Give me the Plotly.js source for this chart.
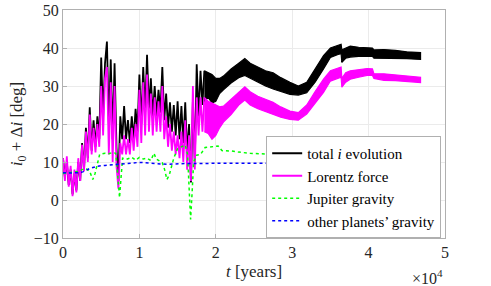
<!DOCTYPE html>
<html>
<head>
<meta charset="utf-8">
<script src="https://cdn.plot.ly/plotly-3.0.1.min.js"></script>
<style>
html,body{margin:0;padding:0;background:#fff;}
#chart{width:491px;height:286px;}
</style>
</head>
<body>
<div id="chart"></div>
<script>
// time in units of 10^4 years
const tEarly = [0.000,0.025,0.050,0.075,0.100,0.125,0.150,0.175,0.200,0.225,0.250,0.275,0.300,0.325,0.350,0.375,0.400,0.425,0.450,0.475,0.500,0.525,0.550,0.575,0.600,0.625,0.650,0.675,0.700,0.725,0.750,0.775,0.800,0.825,0.850,0.875,0.900,0.925,0.950,0.975,1.000,1.025,1.050,1.075,1.100,1.125,1.150,1.175,1.200,1.225,1.250,1.275,1.300,1.325,1.350,1.375,1.400,1.425,1.450,1.475,1.500,1.525,1.550,1.575,1.600,1.625,1.650,1.675,1.700,1.725,1.750,1.775,1.800,1.825,1.850];
const totalEarly = [11,6,10,4,8,1.5,7,2.5,10,5,15,8,19,11,24.4,13,21,14,22,16,37.5,22,36,41.7,20,37,16,36,14,5,22,16,24.7,16,21,15,22,16,24,18,33,20,35,23,38.2,24,32,22,30,22,29,23,35,21,28,19,25.7,18,25,17,26,16,24.7,15,25.7,12,20,4.6,26,10,35.7,22,34,25,34];
const lorentzEarly = [11,5,11.5,3.5,9,1,8,2,11,5,14.5,7.5,18,10,22.5,12,19,12.5,20,14,30,17,32,35,12,31,10,30,9,3,15,12,17,12,16,12,19,13,20,14,29,15,31,17,33,18,28,17,27,18,26,18,30,16,22,14,20,13,18,12,17,11,18,10,21,8,17,5,30,8,27,17,27,18,27];

const tLate = [1.85,1.90,1.95,2.00,2.05,2.10,2.20,2.30,2.38,2.45,2.55,2.65,2.75,2.85,2.97,3.08,3.19,3.30,3.41,3.50,3.60,3.64,3.65,3.70,3.76,3.87,3.98,4.05,4.07,4.20,4.35,4.50,4.68];
const totalHi = [34,33.5,33,32,32,32.6,34.5,36,37.2,36,35,34,33.5,32.2,31,30,31,34.5,38,40,40.8,41,39.5,40,40.5,40.2,40,40,39.5,39.6,39.4,39,38.8];
const totalLo = [26,27,25.5,26,28,29,30.8,32.2,32.8,32,31,30,29.2,28.5,27.8,27.6,28.2,31,34.5,37.5,38.3,38.5,36.2,37.3,37.6,37.8,37.8,37.8,37.3,37.4,37.3,37.2,37];
const lorentzHi = [27,26,25.5,25,24.5,24.7,26.5,28.5,29.8,28.5,27.3,26.5,25.7,24.5,23.4,23,25,28.5,31.8,34,34.6,35,32,33.5,34,34.3,34.6,34.5,33.2,33.2,32.9,32.6,32.3];
const lorentzLo = [18,17.5,16,17,19,20.5,22.5,25,26.3,25,24,23.2,22.5,21.8,21.2,21,22.6,25.5,28.3,31.3,32,32.3,29.7,31,31.8,32.3,32.8,32.8,32,31.5,31.4,31.2,30.9];

const tJupiter = [0,0.1,0.2,0.25,0.3,0.35,0.39,0.42,0.45,0.48,0.55,0.6,0.65,0.69,0.71,0.74,0.76,0.78,0.83,0.9,0.95,1.0,1.05,1.1,1.15,1.19,1.22,1.27,1.3,1.33,1.36,1.39,1.42,1.45,1.5,1.55,1.6,1.63,1.65,1.67,1.69,1.71,1.75,1.8,1.86,1.95,2.03,2.08,2.2,2.3,2.45,2.65,2.9,3.08,3.3,3.5,3.84,4.1,4.4,4.68];
const jupiter = [7.0,7.2,7.5,8,8.3,7.5,5.4,7,10,12,12.3,12.2,12.5,12.3,8,0.6,6,11,10.7,11.2,10.5,11.2,10.8,11,10.4,12.3,10.8,10.2,9.8,8,5.4,6.5,9,11,13.5,14,14.5,12,2,-5.1,2,10,11.8,12,13.8,14,14.2,13,12.9,12.6,12.3,12.1,11.9,11.5,10.8,10.6,10.5,10.7,10.8,10.9];

const tOther = [0,0.1,0.2,0.26,0.35,0.45,0.55,0.66,0.8,1.0,1.2,1.36,1.6,2.0,2.5,3.0,3.5,4.0,4.68];
const other = [7.2,7.1,7.2,7.4,8.3,8.9,9.1,9.3,9.5,9.9,9.6,9.4,9.6,9.7,9.7,9.7,9.7,9.7,9.7];

const yTicks = [-10,0,10,20,30,40,50];
const xTicks = [0,1,2,3,4,5];
const xTickText = ['0','1','2','3','4','5'];

const names = ['total <i>i</i> evolution','Lorentz force','Jupiter gravity','other planets’ gravity'];
const black = '#000000', magenta = '#ff00ff', green = '#00ff00', blue = '#0000ff';

// closed band outline (upper envelope forward, lower envelope backward)
function band(t, hi, lo) {
  return { x: t.concat(t.slice().reverse()), y: hi.concat(lo.slice().reverse()) };
}
const bTotal = band(tLate, totalHi, totalLo);
const bLorentz = band(tLate, lorentzHi, lorentzLo);

const traces = [
  {x:bTotal.x, y:bTotal.y, yaxis:'y2', mode:'lines', fill:'toself', fillcolor:black, showlegend:false, hoverinfo:'skip', line:{color:black,width:1.2}},
  {x:bLorentz.x, y:bLorentz.y, yaxis:'y2', mode:'lines', fill:'toself', fillcolor:magenta, showlegend:false, hoverinfo:'skip', line:{color:magenta,width:1.2}},
  {x:tEarly, y:totalEarly, mode:'lines', name:names[0], line:{color:black,width:1.8}},
  {x:tEarly, y:lorentzEarly, mode:'lines', name:names[1], line:{color:magenta,width:1.8}},
  {x:tJupiter, y:jupiter, mode:'lines', name:names[2], line:{color:green,width:1.5,dash:'dot'}},
  {x:tOther, y:other, mode:'lines', name:names[3], line:{color:blue,width:1.5,dash:'dot'}}
];

const F = 'Liberation Serif';
const layout = {
  width:491, height:286,
  margin:{l:63, r:46, t:10, b:48},
  paper_bgcolor:'#fff', plot_bgcolor:'#fff',
  font:{family:F, size:15, color:'#262626'},
  showlegend:true,
  xaxis:{range:[0,5], tickvals:xTicks, ticktext:xTickText, showgrid:true, gridcolor:'#ebebeb',
         showline:true, mirror:true, linecolor:'#b0b0b0', linewidth:1, ticks:'inside', ticklen:4, tickcolor:'#b0b0b0',
         zeroline:false, tickfont:{family:F, size:16},
         title:{text:'<i>t</i> [years]', font:{family:F, size:17}, standoff:4}},
  yaxis:{range:[-10,50], tickvals:yTicks, showgrid:true, gridcolor:'#ebebeb',
         showline:true, mirror:true, linecolor:'#b0b0b0', linewidth:1, ticks:'inside', ticklen:4, tickcolor:'#b0b0b0',
         zeroline:false, tickfont:{family:F, size:16},
         title:{text:'<i>i</i><sub>0</sub> + Δ<i>i</i> [deg]', font:{family:F, size:17}, standoff:6}},
  yaxis2:{range:[-10,50], overlaying:'y', visible:false, showgrid:false, zeroline:false},
  legend:{x:0.99, xanchor:'right', y:0, yanchor:'bottom', bgcolor:'#fff', bordercolor:'#b0b0b0', borderwidth:1,
          font:{family:F, size:15, color:'#000'}, itemwidth:30, tracegroupgap:0, traceorder:'normal'},
  annotations:[{xref:'paper', yref:'paper', x:1, y:-0.17, xanchor:'right', yanchor:'middle', showarrow:false,
                text:'×10<sup>4</sup>', font:{family:F, size:16, color:'#262626'}}]
};

Plotly.newPlot('chart', traces, layout, {displayModeBar:false});
</script>
</body>
</html>
